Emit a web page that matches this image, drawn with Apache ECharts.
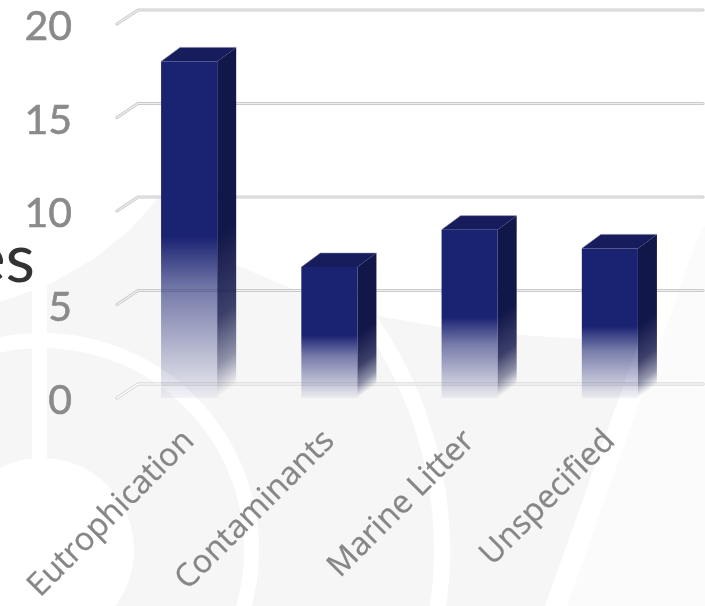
<!DOCTYPE html>
<html>
<head>
<meta charset="utf-8">
<style>html,body{margin:0;padding:0;background:#fff}#c{width:705px;height:606px}</style>
<script src="https://cdn.jsdelivr.net/npm/echarts@6/dist/echarts.min.js"></script>
</head>
<body>
<div id="c"></div>
<script>
const categories = ['Eutrophication', 'Contaminants', 'Marine Litter', 'Unspecified'];
const values = [18, 7, 9, 8];
const gridTicks = [0, 5, 10, 15, 20];
const cutOffTitle = 'es';

const DX = 19, DY = 14;
const chart = echarts.init(document.getElementById('c'), null, {renderer: 'canvas'});
const LG = echarts.graphic.LinearGradient;
const WM = '#f6f6f6';

function alphaStops(rgb, list) {
  return list.map(s => ({offset: s[0], color: 'rgba(' + rgb + ',' + s[1] + ')'}));
}

function renderGrid(params, api) {
  const cs = params.coordSys;
  const v = api.value(1);
  const y = api.coord([0, v])[1];
  const x0 = cs.x - 2, x1 = cs.x + DX, x2 = cs.x + cs.width + 23;
  const pts = [[x0, y], [x1, y - DY], [x2, y - DY]];
  const inner = v === 0 ? '#fcfcfc' : '#efefef';
  return {type: 'group', children: [
    {type: 'polyline', shape: {points: pts}, style: {fill: null, stroke: '#cbcbcb', lineWidth: 3.2, lineCap: 'round', lineJoin: 'round'}},
    {type: 'polyline', shape: {points: pts}, style: {fill: null, stroke: inner, lineWidth: v === 0 ? 1.6 : 1.2, lineCap: 'round', lineJoin: 'round'}}
  ]};
}

function renderBar(params, api) {
  const c = api.coord([api.value(0), api.value(1)]);
  const base = api.coord([api.value(0), 0]);
  const w = api.size([1, 0])[0] * 0.4;
  const xl = c[0] - w / 2, xr = c[0] + w / 2, yt = c[1], yb = base[1];
  const yMid = yt + (yb - yt) * 0.52;
  const nx = DY / Math.hypot(DX, DY), ny = DX / Math.hypot(DX, DY);
  const L = (yb - yMid) * ny;
  const sideFill = new LG(xr - nx * L, yb - ny * L, xr, yb,
    alphaStops('18,23,74', [[0, 1], [0.5, 0.82], [0.8, 0.45], [1, 0]]), true);
  const frontFill = new LG(0, 0, 0, 1,
    alphaStops('26,34,114', [[0, 1], [0.52, 1], [0.68, 0.58], [0.85, 0.3], [1, 0.05]]));
  return {type: 'group', children: [
    {type: 'polygon', shape: {points: [[xr, yt], [xr + DX, yt - DY], [xr + DX, yb - DY], [xr, yb]]}, style: {fill: sideFill}},
    {type: 'polygon', shape: {points: [[xl, yt], [xl + DX, yt - DY], [xr + DX, yt - DY], [xr, yt]]}, style: {fill: '#171c5c'}},
    {type: 'rect', shape: {x: xl, y: yt, width: w, height: yb - yt}, style: {fill: frontFill}},
    {type: 'polyline', shape: {points: [[xl, yt], [xl + DX, yt - DY], [xr + DX, yt - DY]]}, style: {fill: null, stroke: 'rgba(120,120,150,.55)', lineWidth: 1}}
  ]};
}

const ringC = {cx: 42, cy: 550};
chart.setOption({
  animation: false,
  backgroundColor: '#ffffff',
  graphic: {elements: [
    {type: 'polygon', z: -10, silent: true,
      shape: {points: [[0,302],[50,284],[95,258],[130,230],[160,196],[190,228],[236,265],[300,292],[378,316],[440,327],[520,335],[600,340],[640,338],[620,395],[545,606],[0,606]]},
      style: {fill: WM}},
    {type: 'polygon', z: -10, silent: true, shape: {points: [[697, 240], [705, 225], [705, 606], [567, 606], [642, 395]]}, style: {fill: '#fbfbfb'}},
    {type: 'ring', z: -9, silent: true, shape: {...ringC, r: 217, r0: 202}, style: {fill: '#fff'}},
    {type: 'ring', z: -9, silent: true, shape: {...ringC, r: 408, r0: 392}, style: {fill: '#fff'}},
    {type: 'circle', z: -9, silent: true, shape: {...ringC, r: 92}, style: {fill: '#fff'}},
    {type: 'rect', z: -9, silent: true, shape: {x: 32, y: 285, width: 15, height: 180}, style: {fill: '#fff'}},
    {type: 'text', z: 5, silent: true, x: 35, y: 294,
      style: {text: cutOffTitle, fill: '#333333', fontFamily: 'Lato', fontSize: 68, align: 'right', verticalAlign: 'bottom'}}
  ]},
  grid: {left: 119, top: 24, width: 561, height: 374, outerBoundsMode: 'none'},
  xAxis: {type: 'category', data: categories,
    axisLine: {show: false}, axisTick: {show: false},
    axisLabel: {rotate: 45, color: '#868686', fontFamily: 'Open Sans', fontSize: 32, margin: 38, interval: 0,
      textBorderColor: '#868686', textBorderWidth: 0.3}},
  yAxis: {type: 'value', min: 0, max: 20, interval: 5,
    axisLine: {show: false}, axisTick: {show: false}, splitLine: {show: false},
    axisLabel: {margin: 47, formatter: '{a|{value}}',
      rich: {a: {color: '#8a8a8a', fontFamily: 'Lato', fontSize: 41, padding: [6, 0, 0, 0],
        textBorderColor: '#8a8a8a', textBorderWidth: 0.6}}}},
  series: [
    {type: 'custom', name: 'grid', renderItem: renderGrid, clip: false, silent: true, z: 1,
      encode: {x: 0, y: 1}, data: gridTicks.map(t => [0, t])},
    {type: 'custom', name: 'bars', renderItem: renderBar, clip: false, z: 2,
      encode: {x: 0, y: 1}, data: values.map((v, i) => [i, v])}
  ]
});
</script>
</body>
</html>
